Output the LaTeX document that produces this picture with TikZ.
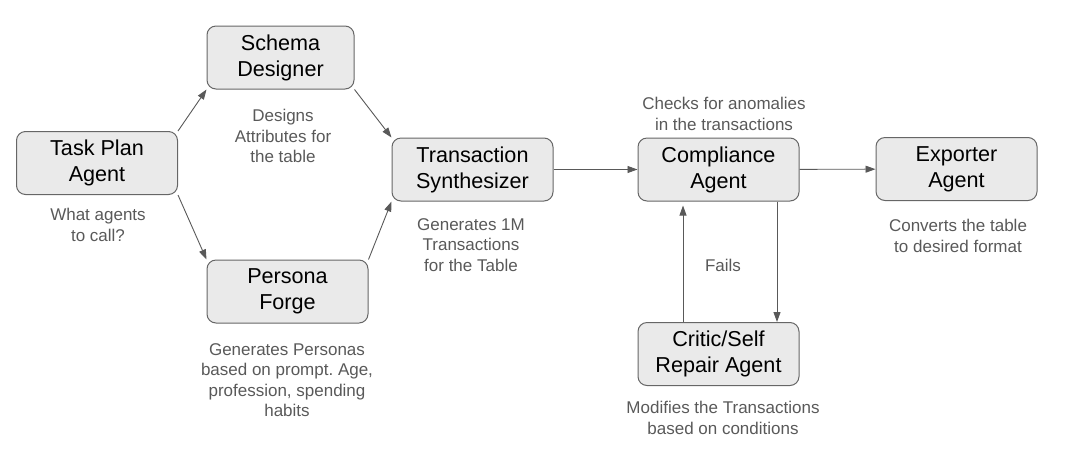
\documentclass[tikz,border=0pt]{standalone}
\usepackage{fontspec}
\setmainfont{Liberation Sans}
\usepackage{xcolor}
\usetikzlibrary{arrows.meta}
\frenchspacing

\definecolor{boxfill}{HTML}{EAEAEA}
\definecolor{boxline}{HTML}{666666}
\definecolor{notegray}{HTML}{595959}

\tikzset{
    agent/.style={draw=boxline, fill=boxfill, line width=1pt, rounded corners=9pt,
        minimum width=161pt, minimum height=63pt, align=center,
        font=\fontsize{21.6}{26}\selectfont},
    note/.style={align=center, text=notegray, font=\fontsize{17}{20.5}\selectfont},
    flow/.style={draw=notegray, line width=0.9pt, -{Triangle[length=10pt,width=7pt]}},
}

\begin{document}
\begin{tikzpicture}[x=1pt, y=-1pt]
\useasboundingbox (0,0) rectangle (1068,459);

% agents
\node[agent] (task)    at (97,163)      {Task Plan\\Agent};
\node[agent, minimum width=147pt] (schema) at (280.5,57.5) {Schema\\Designer};
\node[agent] (persona) at (287.5,291.5) {Persona\\Forge};
\node[agent] (synth)   at (472.5,169.5) {Transaction\\Synthesizer};
\node[agent] (comply)  at (718.5,169.5) {Compliance\\Agent};
\node[agent] (export)  at (956.5,169)   {Exporter\\Agent};
\node[agent] (critic)  at (718.5,354)   {Critic/Self\\Repair Agent};

% notes
\node[note] (tasknote)    at (98,225)  {What agents\\to call?};
\node[note] (schemanote)  at (283,136) {Designs\\Attributes for\\the table};
\node[note] (personanote) at (287,380) {Generates Personas\\based on prompt. Age,\\profession, spending\\habits};
\node[note] (synthnote)   at (471,245) {Generates 1M\\Transactions\\for the Table};
\node[note] (complynote)  at (724,114) {Checks for anomalies\\in the transactions};
\node[note] (failnote)    at (723,265) {Fails};
\node[note] (exportnote)  at (958,236) {Converts the table\\to desired format};
\node[note] (criticnote)  at (723,418) {Modifies the Transactions\\based on conditions};

% connectors
\draw[flow] (task.north east) -- (schema.south west);
\draw[flow] (task.south east) -- (persona.north west);
\draw[flow] (schema.south east) -- (synth.north west);
\draw[flow] (persona.north east) -- (synth.south west);
\draw[flow] (synth) -- (comply);
\draw[flow] (comply) -- (export);
\draw[flow] ([xshift=58.5pt]comply.south) -- ([xshift=58.5pt]critic.north);
\draw[flow, shorten >=4pt] ([xshift=-35.5pt]critic.north) -- ([xshift=-35.5pt]comply.south);
\end{tikzpicture}
\end{document}
